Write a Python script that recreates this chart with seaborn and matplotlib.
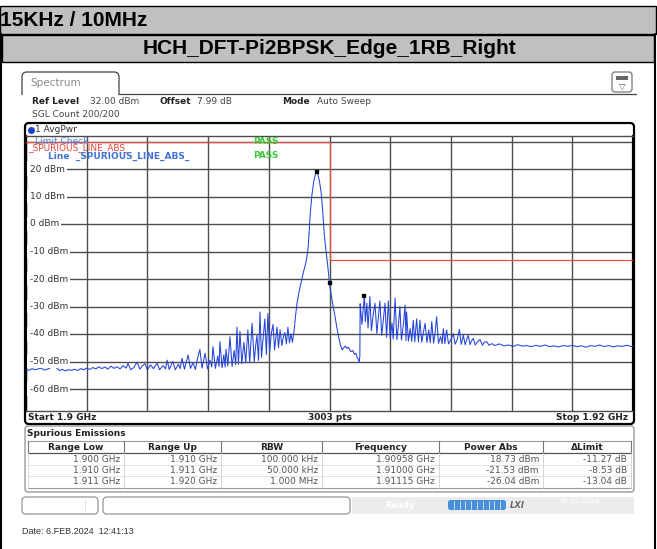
import numpy as np
import matplotlib
matplotlib.use("Agg")
import matplotlib.pyplot as plt
import matplotlib.transforms as mtransforms
from matplotlib.patches import Rectangle, FancyBboxPatch
import seaborn as sns

# ---- trace (MHz / dBm) ----
freq_mhz = [
    # noise floor
    1900.00, 1900.10, 1900.20, 1900.30, 1900.40, 1900.50, 1900.60, 1900.70, 1900.80, 1900.90,
    1901.00, 1901.10, 1901.20, 1901.30, 1901.40, 1901.50, 1901.60, 1901.70, 1901.80, 1901.90,
    1902.00, 1902.10, 1902.20, 1902.30, 1902.40, 1902.50, 1902.60, 1902.70, 1902.80, 1902.90,
    1903.00, 1903.10, 1903.20, 1903.30,
    # spurs below the carrier
    1903.36, 1903.45, 1903.55, 1903.66, 1903.75, 1903.84, 1903.92, 1904.00, 1904.10, 1904.20,
    1904.32, 1904.40, 1904.52, 1904.60, 1904.65, 1904.72, 1904.84, 1904.92, 1905.02, 1905.08,
    1905.14, 1905.22, 1905.34, 1905.42, 1905.50, 1905.58, 1905.65, 1905.73, 1905.80, 1905.90,
    1905.98, 1906.06, 1906.12, 1906.16, 1906.24, 1906.32, 1906.36, 1906.39, 1906.46, 1906.52,
    1906.56, 1906.59, 1906.65, 1906.72, 1906.79, 1906.86, 1906.91, 1906.95, 1907.00, 1907.05,
    1907.11, 1907.18, 1907.24, 1907.31, 1907.37, 1907.45, 1907.52, 1907.57, 1907.61, 1907.66,
    1907.71, 1907.76, 1907.80, 1907.87, 1907.92, 1907.97, 1908.03, 1908.08, 1908.14, 1908.19,
    1908.27, 1908.32, 1908.37, 1908.43, 1908.48, 1908.53, 1908.58, 1908.63, 1908.68, 1908.73,
    1908.78,
    # carrier
    1908.83, 1908.88, 1908.93, 1909.00, 1909.08, 1909.14, 1909.19, 1909.25, 1909.30, 1909.36,
    1909.42, 1909.48, 1909.54, 1909.58, 1909.62, 1909.67, 1909.73, 1909.78, 1909.83, 1909.88,
    1909.93, 1909.97, 1910.00, 1910.06, 1910.12, 1910.18, 1910.24, 1910.30, 1910.36, 1910.42,
    1910.47, 1910.52, 1910.57, 1910.62, 1910.67, 1910.72, 1910.77, 1910.82, 1910.87, 1910.91,
    1910.95, 1910.98, 1911.00,
    # spurs above the carrier
    1911.01, 1911.04, 1911.07, 1911.11, 1911.15, 1911.18, 1911.23, 1911.27, 1911.33, 1911.38,
    1911.44, 1911.50, 1911.56, 1911.61, 1911.66, 1911.72, 1911.77, 1911.83, 1911.88, 1911.94,
    1912.00, 1912.06, 1912.10, 1912.16, 1912.22, 1912.27, 1912.32, 1912.37, 1912.44, 1912.49,
    1912.52, 1912.54, 1912.60, 1912.66, 1912.71, 1912.76, 1912.81, 1912.87, 1912.93, 1912.98,
    1913.04, 1913.10, 1913.15, 1913.21, 1913.27, 1913.32, 1913.37, 1913.43, 1913.48, 1913.53,
    1913.59, 1913.66, 1913.71, 1913.75, 1913.80, 1913.86, 1913.92, 1914.00, 1914.08, 1914.14,
    1914.21, 1914.28, 1914.34, 1914.41, 1914.47, 1914.52, 1914.57, 1914.63, 1914.68, 1914.74,
    1914.80, 1914.88, 1914.96, 1915.04, 1915.10, 1915.18, 1915.26, 1915.35, 1915.45,
    # floor
    1915.60, 1915.75, 1915.90, 1916.05, 1916.20, 1916.35, 1916.50, 1916.65, 1916.80, 1916.95,
    1917.10, 1917.25, 1917.40, 1917.55, 1917.70, 1917.85, 1918.00, 1918.15, 1918.30, 1918.45,
    1918.60, 1918.75, 1918.90, 1919.05, 1919.20, 1919.35, 1919.50, 1919.65, 1919.80, 1919.95,
    1920.00,
]
level_dbm = [
    -52.8, -53.2, -52.6, -53.0, -52.7, -52.4, -53.1, -52.8, -52.3, -51.6,
    -52.2, -53.3, -52.9, -53.4, -53.0, -53.2, -52.8, -53.3, -52.6, -53.0,
    -52.4, -52.9, -52.2, -52.7, -51.9, -52.6, -52.0, -52.8, -51.7, -52.5,
    -51.9, -52.7, -51.5, -52.4,
    -50.7, -53.0, -52.2, -50.2, -52.8, -51.5, -50.8, -53.1, -51.2, -52.6,
    -50.6, -53.0, -51.5, -52.7, -49.5, -52.9, -50.0, -53.0, -51.0, -52.6,
    -48.8, -52.8, -47.6, -52.5, -50.5, -52.9, -49.0, -45.6, -52.4, -47.0,
    -52.7, -49.5, -52.0, -44.6, -52.5, -48.0, -51.8, -42.8, -52.3, -47.5,
    -52.0, -45.5, -51.6, -41.0, -51.8, -46.0, -51.2, -37.5, -51.0, -39.0,
    -50.8, -43.0, -50.5, -38.5, -50.4, -36.1, -50.0, -44.0, -40.5, -49.6,
    -32.0, -48.5, -43.0, -34.5, -47.5, -32.5, -46.5, -40.0, -36.5, -45.8,
    -37.5, -45.0, -38.5, -44.2, -41.0, -39.5, -43.6, -37.5, -43.2, -40.0,
    -43.0,
    -39.0, -33.5, -28.8, -24.5, -20.4, -17.5, -15.5, -12.5, -8.2, 3.0,
    10.5, 15.5, 18.2, 18.73, 18.0, 15.5, 11.0, 4.0, -4.0, -9.5,
    -14.0, -18.5, -21.53, -26.0, -30.0, -33.5, -37.5, -41.0, -44.0, -45.8,
    -45.0, -44.4, -45.2, -44.8, -45.9, -46.4, -46.0, -47.4, -47.0, -48.6,
    -49.2, -50.3, -48.0,
    -29.0, -33.0, -36.5, -31.0, -26.04, -35.5, -28.8, -37.8, -26.4, -38.8,
    -33.0, -28.8, -39.8, -34.0, -28.0, -40.5, -35.0, -28.8, -41.2, -28.0,
    -41.6, -36.0, -41.8, -27.0, -42.0, -37.0, -30.0, -42.2, -36.0, -29.5,
    -42.4, -32.0, -42.6, -38.0, -42.7, -35.0, -42.8, -34.5, -42.9, -35.0,
    -43.0, -39.0, -36.1, -43.1, -38.5, -43.2, -35.5, -43.3, -39.5, -33.7,
    -43.4, -41.0, -43.5, -38.0, -43.5, -38.5, -43.6, -42.0, -39.9, -43.7,
    -42.0, -38.3, -43.8, -40.4, -43.9, -42.0, -40.5, -43.9, -42.5, -41.6,
    -44.0, -42.8, -42.0, -44.1, -43.0, -42.8, -44.1, -43.5, -44.2,
    -43.6, -44.3, -44.0, -44.5, -43.9, -44.4, -44.2, -44.6, -44.1, -44.5,
    -44.0, -44.6, -44.3, -44.7, -44.2, -44.5, -44.1, -44.6, -44.3, -44.8,
    -44.2, -44.5, -44.0, -44.6, -44.2, -44.7, -44.3, -44.5, -44.1, -44.6,
    -44.4,
]

# limit line
limit_freq = [1900, 1910, 1910, 1920]
limit_level = [30, 30, -13, -13]

# spurious emissions table
range_low = ["1.900 GHz", "1.910 GHz", "1.911 GHz"]
range_up = ["1.910 GHz", "1.911 GHz", "1.920 GHz"]
rbw = ["100.000 kHz", "50.000 kHz", "1.000 MHz"]
peak_freq_ghz = [1.90958, 1.91000, 1.91115]
peak_power = [18.73, -21.53, -26.04]
range_limit = [30, -13, -13]
headers = ["Range Low", "Range Up", "RBW", "Frequency", "Power Abs", "\u0394Limit"]

y_labels = [20, 10, 0, -10, -20, -30, -40, -50, -60]

W, H = 657, 549
sns.set_style("white")
plt.rcParams["font.family"] = ["DejaVu Sans"]

fig = plt.figure(figsize=(W / 100, H / 100), dpi=100)
fig.patch.set_facecolor("white")
bg = fig.add_axes([0, 0, 1, 1])
bg.set_xlim(0, W)
bg.set_ylim(H, 0)
bg.axis("off")
# pixel coordinates (y down) for overlays
px = mtransforms.Affine2D().scale(1 / W, -1 / H).translate(0, 1) + fig.transFigure

# header bands
hdr = dict(family="Liberation Sans", weight="bold", size=15, color="black", va="center")
bg.add_patch(Rectangle((0, 6), 656, 28, fc="#c0c0c0", ec="black", lw=1))
bg.add_patch(Rectangle((2, 35), 652, 27, fc="#c0c0c0", ec="black", lw=1))
bg.text(0, 21, "15KHz / 10MHz", ha="left", **hdr)
bg.text(329, 49, "HCH_DFT-Pi2BPSK_Edge_1RB_Right", ha="center", **hdr)
bg.plot([1, 1], [34, H], color="black", lw=1.5)
bg.plot([655, 655], [34, H], color="black", lw=1.5)

# spectrum tab + icon
bg.add_patch(FancyBboxPatch((22, 72), 97, 28, boxstyle="round,pad=0,rounding_size=5",
                            fc="white", ec="#444", lw=0.9))
bg.add_patch(Rectangle((20, 94.5), 104, 8, fc="white", ec="none"))
bg.plot([119, 636], [94, 94], color="#444", lw=0.9)
bg.text(30, 83, "Spectrum", size=7.5, color="#8a8a8a", va="center")
bg.add_patch(FancyBboxPatch((612, 72), 20, 20, boxstyle="round,pad=0,rounding_size=3",
                            fc="white", ec="#666", lw=0.8))
bg.add_patch(Rectangle((616, 76), 12, 4, fc="#666", ec="none"))
bg.text(622, 86, "\u25bd", ha="center", va="center", size=6, color="#555")

small = dict(size=6.5, va="center")
bg.text(32, 102, "Ref Level", weight="bold", color="#222", **small)
bg.text(90, 102, "32.00 dBm", color="#444", **small)
bg.text(160, 102, "Offset", weight="bold", color="#222", **small)
bg.text(197, 102, "7.99 dB", color="#444", **small)
bg.text(282, 102, "Mode", weight="bold", color="#222", **small)
bg.text(317, 102, "Auto Sweep", color="#444", **small)
bg.text(32, 114, "SGL Count 200/200", color="#444", **small)

# diagram frame
bg.add_patch(FancyBboxPatch((25, 123), 609, 301, boxstyle="round,pad=0,rounding_size=4",
                            fc="white", ec="black", lw=1.6))
bg.plot(31, 129.5, "o", color="#1f3fd0", ms=4)
bg.text(35, 129.5, "1 AvgPwr", color="#333", **small)
bg.text(28, 417, "Start 1.9 GHz", weight="bold", color="#222", **small)
bg.text(330, 417, "3003 pts", weight="bold", color="#222", ha="center", **small)
bg.text(628, 417, "Stop 1.92 GHz", weight="bold", color="#222", ha="right", **small)

# ---- spectrum ----
ax = fig.add_axes([26 / W, 1 - 411 / H, 607 / W, 275 / H])
ax.set_zorder(2)
ax.set_facecolor("white")
sns.lineplot(x=freq_mhz, y=level_dbm, ax=ax, estimator=None, sort=False,
             color="#2443d9", lw=0.75, zorder=4)
ax.plot(limit_freq, limit_level, color="#e4503f", lw=0.9, zorder=3)
sns.scatterplot(x=[f * 1000 for f in peak_freq_ghz], y=peak_power, ax=ax,
                marker="s", s=7, color="black", edgecolor="black", zorder=6)
ax.set_xlim(1900, 1920)
ax.set_ylim(-68, 32)
ax.set_xticks(np.arange(1900, 1921, 2))
ax.set_yticks(np.arange(-60, 31, 10))
ax.tick_params(length=0, labelbottom=False, labelleft=False)
ax.set_xlabel("")
ax.set_ylabel("")
ax.grid(True, color="#4d4d4d", lw=1.0)
ax.set_axisbelow(True)
for side in ["left", "right"]:
    ax.spines[side].set_color("black")
    ax.spines[side].set_linewidth(1.6)
for side in ["top", "bottom"]:
    ax.spines[side].set_color("#4d4d4d")
    ax.spines[side].set_linewidth(1.0)

for v in y_labels:
    ax.text(0.006, v, f"{v} dBm", transform=ax.get_yaxis_transform(), size=6.5,
            va="center", ha="left", color="#333", zorder=5,
            bbox=dict(fc="white", ec="none", pad=1.6))

ax.text(35, 141, "Limit Check", transform=px, color="#4a7fd8", size=6.5, va="center", zorder=5)
ax.text(28, 147.5, "_SPURIOUS_LINE_ABS_", transform=px, color="#e0463a", size=6.5,
        va="center", zorder=5)
ax.text(48, 156, "Line  _SPURIOUS_LINE_ABS_", transform=px, color="#3f73d6", size=6.5,
        weight="bold", va="center", zorder=5)
ax.text(253, 141, "PASS", transform=px, color="#3cc83c", size=6.5, weight="bold",
        va="center", zorder=5)
ax.text(253, 156, "PASS", transform=px, color="#3cc83c", size=6.5, weight="bold",
        va="center", zorder=5)

# ---- spurious emissions table ----
bg.add_patch(FancyBboxPatch((25, 426), 609, 66, boxstyle="round,pad=0,rounding_size=3",
                            fc="white", ec="#9a9a9a", lw=1))
bg.text(27, 433, "Spurious Emissions", weight="bold", color="#222", **small)
col_edges = [28, 124, 221, 322, 439, 543, 631]
head_y, row_ys = 447, [459, 470.5, 482]
bg.plot([28, 631], [441, 441], color="#9a9a9a", lw=0.8)
bg.plot([28, 631], [453, 453], color="#555", lw=0.9)
for ry in [464.7, 476.3]:
    bg.plot([28, 631], [ry, ry], color="#dddddd", lw=0.6)
bg.plot([28, 631], [488, 488], color="#9a9a9a", lw=0.8)
for x in col_edges:
    bg.plot([x, x], [441, 453], color="#777", lw=0.8)
    bg.plot([x, x], [453, 488], color="#d0d0d0", lw=0.6)
for i, h in enumerate(headers):
    bg.text((col_edges[i] + col_edges[i + 1]) / 2, head_y, h, weight="bold",
            ha="center", color="#222", **small)

freq_txt = [f"{f:.5f} GHz" for f in peak_freq_ghz]
pow_txt = [f"{p:.2f} dBm" for p in peak_power]
dlim_txt = [f"{p - l:.2f} dB" for p, l in zip(peak_power, range_limit)]
columns = [range_low, range_up, rbw, freq_txt, pow_txt, dlim_txt]
for c, col in enumerate(columns):
    for r, s in enumerate(col):
        bg.text(col_edges[c + 1] - 4, row_ys[r], s, ha="right", color="#555", **small)

# ---- status bar ----
bg.add_patch(FancyBboxPatch((22, 497), 76, 17, boxstyle="round,pad=0,rounding_size=4",
                            fc="white", ec="#888", lw=0.8))
bg.plot([85, 85], [499, 512], color="#dddddd", lw=0.6)
bg.add_patch(FancyBboxPatch((103, 497), 247, 17, boxstyle="round,pad=0,rounding_size=4",
                            fc="white", ec="#888", lw=0.8))
bg.add_patch(Rectangle((352, 497), 282, 17, fc="#ececec", ec="none"))
bg.text(385, 505.5, "Ready", size=6, color="white", va="center", weight="bold")
bg.text(560, 501, "06.02.2024", size=5, color="white", va="center")
bg.add_patch(FancyBboxPatch((448, 500), 58, 10, boxstyle="round,pad=0,rounding_size=2.5",
                            fc="#4a8fdc", ec="none"))
for k in range(1, 10):
    bg.plot([448 + k * 5.8, 448 + k * 5.8], [501, 509], color="white", lw=0.5)
bg.text(510, 505, "LXI", size=6, color="#666", style="italic", weight="bold", va="center")

bg.text(22, 532, "Date: 6.FEB.2024  12:41:13", family="Liberation Sans", size=6.5,
        color="#333", va="center")

fig.savefig("out.png", dpi=100)
